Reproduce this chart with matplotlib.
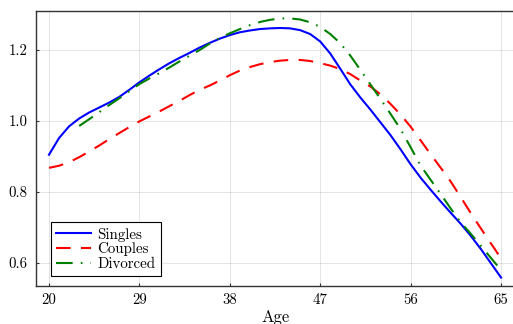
import matplotlib
matplotlib.use("Agg")
import matplotlib.pyplot as plt
import numpy as np

plt.rcParams['font.family'] = ['cmr10', 'DejaVu Sans']
plt.rcParams['mathtext.fontset'] = 'cm'
plt.rcParams['axes.formatter.use_mathtext'] = True

ages = list(range(20, 66))
singles = [0.905, 0.952, 0.985, 1.007, 1.024, 1.038, 1.052, 1.068, 1.088, 1.109,
           1.128, 1.146, 1.163, 1.178, 1.192, 1.207, 1.220, 1.232, 1.242, 1.250,
           1.255, 1.259, 1.261, 1.262, 1.261, 1.256, 1.245, 1.224, 1.190, 1.147,
           1.103, 1.066, 1.032, 0.996, 0.960, 0.920, 0.878, 0.840, 0.806, 0.773,
           0.741, 0.710, 0.676, 0.639, 0.599, 0.559]
couples = [0.868, 0.874, 0.884, 0.898, 0.914, 0.931, 0.949, 0.966, 0.983, 0.999,
           1.013, 1.027, 1.042, 1.057, 1.073, 1.088, 1.100, 1.114, 1.129, 1.142,
           1.152, 1.160, 1.166, 1.170, 1.172, 1.172, 1.169, 1.163, 1.156, 1.146,
           1.132, 1.114, 1.097, 1.075, 1.048, 1.018, 0.984, 0.945, 0.906, 0.868,
           0.829, 0.785, 0.740, 0.697, 0.655, 0.613]
div_ages = list(range(23, 66))
divorced = [0.986, 1.005, 1.025, 1.045, 1.064, 1.084, 1.104, 1.120, 1.135, 1.151,
            1.168, 1.184, 1.200, 1.218, 1.234, 1.247, 1.259, 1.270, 1.279, 1.285,
            1.289, 1.289, 1.286, 1.278, 1.265, 1.245, 1.219, 1.184, 1.144, 1.103,
            1.062, 1.020, 0.977, 0.926, 0.874, 0.834, 0.794, 0.753, 0.714, 0.682,
            0.648, 0.614, 0.580]

xticks = [20, 29, 38, 47, 56, 65]
yticks = [0.6, 0.8, 1.0, 1.2]

fig = plt.figure(figsize=(5.13, 3.24), dpi=100)
ax = fig.add_axes([36 / 513, 38 / 324, 478.5 / 513, 275 / 324])

ax.plot(ages, singles, color='#0000ff', lw=1.5, label='Singles')
ax.plot(ages, couples, color='#ff0000', lw=1.5, dashes=(7, 5), label='Couples')
ax.plot(div_ages, divorced, color='#008000', lw=1.5, dashes=(8, 3.9, 0.8, 3.9), label='Divorced')

ax.set_xlim(18.706, 66.34)
ax.set_ylim(0.5352, 1.3099)
ax.set_xticks(xticks)
ax.set_xticklabels([str(t) for t in xticks])
ax.set_yticks(yticks)
ax.set_yticklabels(['%.1f' % t for t in yticks])
ax.tick_params(direction='in', length=2.5, width=0.8, labelsize=10.7, color='#333333')
ax.tick_params(axis='y', pad=6)
ax.tick_params(axis='x', pad=5)
ax.grid(True, color='black', alpha=0.1, lw=0.8)
for s in ax.spines.values():
    s.set_color('#333333')
    s.set_linewidth(1.0)
# label sits low like the reference, nudged up so it stays inside
ax.set_xlabel('Age', fontsize=12, labelpad=2)

leg = ax.legend(loc='lower left', bbox_to_anchor=(0.031, 0.036), borderaxespad=0,
                fontsize=10.8, fancybox=False, edgecolor='black', framealpha=1,
                handlelength=2.3, handletextpad=0.45, labelspacing=0.05,
                borderpad=0.35)
leg.get_frame().set_linewidth(0.8)

fig.savefig('out.png', dpi=100)
